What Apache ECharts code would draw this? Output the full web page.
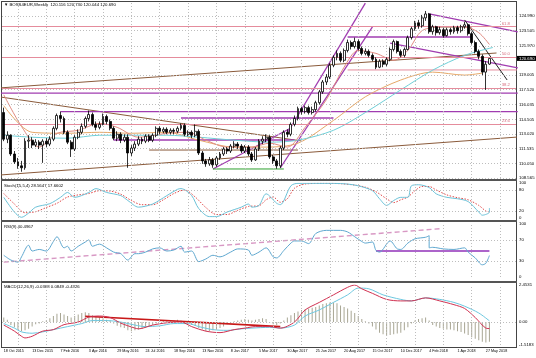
<!DOCTYPE html>
<html><head><meta charset="utf-8">
<script src="https://cdn.jsdelivr.net/npm/echarts/dist/echarts.min.js"></script>
<style>html,body{margin:0;padding:0;background:#fff}#c{width:536px;height:358px}</style>
</head><body><div id="c"></div>
<script>
// ---------------- DATA ----------------
const titleMain = '\u25BC BOSS4EUR,Weekly  120.116 120.730 120.044 120.690';
const titleStoch = 'Stoch(15,5,4) 28.5647 17.6602';
const titleRsi = 'RSI(9) 40.4967';
const titleMacd = 'MACD(12,26,9) -0.0368 0.0849 -0.4326';
const lastPrice = 120.690;
const priceTicks = [108.565,110.050,111.535,113.020,114.505,116.035,117.520,119.005,121.970,123.505,124.990];
const stochTicks = [100,80,20,0];
const rsiTicks = [100,70,30,0];
const macdTicks = [2.4531,0,-1.5183];
const macdTickLabels = ['2.4531','0.00','-1.5183'];
// weekly candles [open, close, low, high], first week 18 Oct 2015
const ohlc = [
[115.2,112.5,112.3,115.7],[112.5,112.9,112.1,113.3],[112.9,111.0,110.8,113.0],[111.0,110.2,110.0,111.3],
[110.2,109.8,109.5,110.6],[109.8,109.6,109.2,110.3],[109.6,112.3,109.4,112.6],[112.3,112.4,111.6,112.9],
[112.4,111.9,111.6,112.7],[111.9,112.2,111.7,112.5],[112.2,111.9,111.5,112.4],[111.9,112.3,110.1,112.5],
[112.3,112.0,111.7,112.6],[112.0,112.5,111.8,112.8],[112.5,113.6,112.3,113.8],[113.6,114.9,113.4,115.1],
[114.9,114.6,114.2,115.3],[114.6,113.2,113.0,114.8],[113.2,112.2,112.0,113.4],[112.2,111.5,110.7,112.4],
[111.5,112.7,111.3,112.9],[112.7,113.2,112.5,113.5],[113.2,113.8,113.0,114.1],[113.8,114.6,113.6,114.8],
[114.6,115.0,114.3,115.4],[115.0,114.0,113.8,115.2],[114.0,113.7,113.4,114.3],[113.7,114.0,113.5,114.3],
[114.0,114.8,113.9,115.1],[114.8,114.3,114.0,115.0],[114.3,113.6,113.4,114.5],[113.6,112.6,112.4,113.8],
[112.6,113.0,112.3,113.3],[113.0,112.4,112.1,113.2],[112.4,112.7,112.2,113.0],[112.7,111.1,109.6,113.0],
[111.1,111.6,110.8,111.9],[111.6,112.0,111.3,112.3],[112.0,112.5,111.8,112.8],[112.5,112.3,112.0,112.7],
[112.3,112.8,112.1,113.0],[112.8,112.4,112.2,113.0],[112.4,112.9,112.2,113.1],[112.9,113.6,112.7,113.8],
[113.6,113.3,113.0,113.8],[113.3,113.5,113.1,113.7],[113.5,113.2,113.0,113.7],[113.2,113.4,113.0,113.6],
[113.4,113.3,113.0,113.6],[113.3,113.6,113.1,113.8],[113.6,113.9,113.4,114.1],[113.9,113.0,112.8,114.1],
[113.0,113.2,112.8,113.4],[113.2,112.9,112.6,113.4],[112.9,113.3,112.7,114.0],[113.3,111.1,110.9,113.5],
[111.1,110.3,110.0,111.3],[110.3,110.0,109.7,110.5],[110.0,110.4,109.8,110.7],[110.4,109.9,109.6,110.6],
[109.9,110.6,109.7,110.8],[110.6,111.0,110.4,111.2],[111.0,111.5,110.8,111.7],[111.5,111.3,111.0,111.7],
[111.3,111.8,111.1,112.0],[111.8,112.0,111.6,112.3],[112.0,111.8,111.5,112.2],[111.8,111.3,111.1,112.0],
[111.3,111.7,111.1,111.9],[111.7,111.0,110.8,111.9],[111.0,110.4,110.2,111.2],[110.4,111.5,110.3,111.7],
[111.5,112.3,111.3,112.5],[112.3,112.5,112.0,112.8],[112.5,112.7,112.2,113.0],[112.7,110.7,110.5,112.9],
[110.7,110.3,110.0,110.9],[110.3,109.8,109.5,110.5],[109.8,111.6,109.6,111.8],[111.6,113.2,111.4,113.4],
[113.2,113.0,112.7,113.5],[113.0,114.0,112.8,114.2],[114.0,114.6,113.8,114.9],[114.6,115.6,114.4,115.8],
[115.6,115.3,115.0,115.8],[115.3,115.7,115.1,115.9],[115.7,115.2,115.0,115.9],[115.2,115.5,115.0,115.8],
[115.5,116.2,115.3,116.4],[116.2,117.3,116.0,117.5],[117.3,118.3,117.1,118.5],[118.3,118.8,118.0,119.1],
[118.8,120.0,118.6,120.2],[120.0,120.8,119.8,121.0],[120.8,121.2,120.5,121.5],[121.2,120.5,120.3,121.4],
[120.5,121.5,120.3,121.7],[121.5,122.3,121.3,122.6],[122.3,121.9,121.6,122.5],[121.9,122.4,121.7,122.8],
[122.4,121.7,121.5,122.6],[121.7,121.2,121.0,121.9],[121.2,121.4,121.0,121.7],[121.4,121.0,120.8,121.6],
[121.0,120.6,120.4,121.2],[120.6,119.8,119.6,120.8],[119.8,120.4,119.7,120.6],[120.4,120.1,119.8,120.6],
[120.1,120.6,119.9,120.8],[120.6,121.6,120.4,121.8],[121.6,122.4,121.4,122.6],[122.4,121.4,121.2,122.5],
[121.4,121.0,120.8,121.6],[121.0,121.6,120.8,121.8],[121.6,122.8,121.5,123.0],[122.8,123.7,122.6,123.9],
[123.7,124.3,123.5,124.5],[124.3,124.0,123.7,124.6],[124.0,124.8,123.8,125.1],[124.8,125.2,124.5,125.5],
[125.2,123.4,123.2,125.3],[123.4,123.9,123.1,124.1],[123.9,123.3,123.0,124.0],[123.3,123.6,123.1,123.9],
[123.6,123.0,122.8,123.8],[123.0,123.6,122.9,123.8],[123.6,123.4,123.1,123.8],[123.4,123.8,123.2,124.0],
[123.8,123.5,123.2,124.0],[123.5,123.9,123.3,124.1],[123.9,124.1,123.7,124.4],[124.1,123.2,123.0,124.2],
[123.2,122.3,122.1,123.4],[122.3,121.4,121.2,122.5],[121.4,120.9,120.6,121.6],[120.9,119.3,119.0,121.1],
[119.3,120.1,117.5,120.4],[120.116,120.690,120.044,120.730]
];
// moving averages [week index, price]
const maFast = [[0,117.0],[5,113.8],[10,111.7],[15,113.1],[21,113.4],[27,114.1],[32,113.7],[38,112.7],[46,113.1],[52,113.2],[57,112.4],[63,111.7],[70,111.7],[75,112.1],[80,111.7],[85,113.7],[91,116.5],[96,119.8],[100,121.5],[105,121.2],[110,120.5],[113.5,121.5],[118,123.5],[124,123.9],[130,123.9],[134,123.3],[137,122.1]];
const maSlow = [[0,115.9],[8,113.2],[18,113.1],[27,113.2],[36,113.1],[46,113.2],[55,112.4],[65,111.7],[74,111.7],[83,112.1],[93,114.4],[102,116.8],[111.5,118.5],[121,119.3],[130.4,119.0],[135.2,119.2]];
const maMid = [[0,112.9],[8,112.7],[18,112.6],[27,112.9],[36,112.9],[46,112.9],[55,112.7],[65,112.4],[75,112.2],[83,112.4],[93,113.4],[102,115.2],[111.5,117.5],[121,119.5],[130,121.0],[138,121.8]];
// fibonacci levels
const fibLevels = [['61.8',123.93],['50.0',120.83],['38.2',117.69],['23.6',114.04]];
const fibExt = ['161.8',125.0,120];
// drawn objects [[week, price],[week, price]]
const brownLines = [[[-1,117.7],[138.6,121.24]],[[-1,116.78],[83.6,112.32]],[[-1,108.87],[144.5,112.72]],[[40.7,111.4],[82.7,111.4]],[[120,123.88],[131.5,123.88]]];
const purpleLines = [[[-1,117.18],[144.5,117.18]],[[16,115.29],[144.5,115.29]],[[49.7,114.65],[92.9,114.65]],[[30.5,112.42],[82.4,112.42]],[[97.1,122.86],[131.5,122.86]],[[78.2,109.58],[104.2,123.88]],[[79.6,113.13],[102.2,126.3]],[[119.9,125.2],[144.5,123.37]],[[108.9,122.25],[144.5,119.72]],[[59,109.48],[80.7,113.63]]];
const pinkLines = [[[97.1,119.52],[144.5,119.52]]];
const greenLines = [[[59,109.48],[78.8,109.48]]];
const blackLines = [[[130.1,124.59],[141.9,118.5]]];
// stochastic
const stochMain = [[0,59],[2.6,17],[4.6,2],[6.6,14],[9.4,31],[13,41],[15.9,59],[17.8,73],[19.5,59],[23.5,73],[26.3,84],[29.1,73],[32.8,64],[34.8,50],[38.4,31],[42.1,40],[46,64],[48.9,82],[50.3,84],[52.5,64],[55.4,27],[57.6,4],[60.1,4],[63,17],[66.6,31],[68.6,40],[70.3,31],[72.3,36],[74.3,69],[76.8,42],[78.2,38],[80.5,92],[83.3,99],[88.1,99],[92.9,99],[96.5,97],[100.2,92],[104.1,78],[106.4,55],[108.4,36],[109.8,50],[111.5,59],[113.5,59],[115.4,92],[117.1,95],[119.9,87],[121.9,69],[124.7,59],[128.4,55],[131.2,47],[134.1,17],[135.2,8],[136.6,17],[137,28.56]];
const stochSignal = [[0,70],[3,40],[6,15],[9,18],[12,30],[15,42],[18,60],[21,66],[24,70],[27,78],[30,77],[33,68],[36,50],[39,38],[42,38],[45,52],[48,70],[51,80],[54,60],[57,30],[60,10],[63,10],[66,22],[69,33],[72,35],[74,52],[76,60],[78,45],[80,55],[82,85],[85,97],[90,99],[95,98],[99,94],[102,88],[105,75],[108,55],[110,44],[112,52],[114,60],[116,78],[118,90],[120,90],[122,80],[125,66],[128,58],[131,52],[134,36],[136,20],[137,17.66]];
// RSI
const rsi = [[0,41],[1.8,32],[3.7,28],[5.4,38],[6.6,60],[8.2,49],[10.2,52],[12.2,49],[13.9,67],[15.3,76],[16.7,55],[17.8,58],[19.2,49],[20.9,58],[22.9,66],[23.8,70],[25.2,58],[27.1,62],[29.1,55],[31.4,47],[33.3,44],[34.8,32],[36.5,44],[38.4,44],[40.4,47],[42.1,53],[44.1,55],[46,49],[47.7,51],[49.7,58],[51.1,47],[53.1,49],[55.4,29],[57.3,34],[59,41],[61,38],[63.8,47],[65.8,53],[68.6,51],[70.3,41],[72.3,47],[74,55],[75.9,38],[77.3,36],[78.8,50],[80.5,64],[82.4,68],[84.4,68],[86.1,63],[88.1,82],[90.9,88],[92.9,88],[94.6,88],[96.5,85],[99.4,76],[101.3,67],[102.2,64],[104.2,66],[105,50],[106.4,47],[109.2,68],[110.6,53],[112,52],[113.5,64],[116.3,72],[118.5,75],[119.7,78],[119.9,55],[121.4,56],[123.9,53],[126.7,52],[129.5,55],[131.2,47],[133.2,36],[135.2,23],[136.2,26],[137,40.5]];
const rsiTrend = [[-0.5,28],[122.5,91]];
const rsiLevelLine = [[105,49],[137,49]];
// MACD
const macdRed = [[0,-0.2],[2.6,-0.6],[4.6,-0.94],[6,-1.05],[8.2,-0.94],[11,-0.6],[13.9,-0.5],[16.7,-0.17],[20.7,0],[23.5,0.33],[27.1,0.4],[29.9,0.3],[32.8,-0.07],[36.5,-0.4],[38.4,-0.45],[42.1,-0.2],[46,-0.05],[49.7,0],[53.4,-0.3],[57.3,-0.6],[61,-0.7],[64.7,-0.5],[67.5,-0.4],[71.4,-0.3],[75.1,-0.3],[77.6,-0.4],[81.6,0],[85.3,0.8],[88.9,1.3],[92.9,1.8],[96.5,2.3],[99.4,2.45],[101.3,2.2],[104.2,1.9],[107.8,1.5],[111.5,1.4],[115.4,1.4],[119.1,1.6],[122.8,1.4],[126.7,1.15],[130.4,0.9],[133.2,0.3],[136,-0.4],[137,-0.43]];
const macdCyan = [[0,-0.1],[2.6,-0.4],[5.4,-0.65],[8.2,-0.74],[11,-0.65],[13.9,-0.5],[17.8,-0.3],[21.5,-0.1],[25.2,0.1],[29.1,0.1],[32.8,0],[36.5,-0.2],[40.4,-0.3],[44.1,-0.25],[47.7,-0.1],[51.7,-0.1],[55.4,-0.3],[59,-0.5],[63,-0.55],[66.6,-0.45],[70.3,-0.4],[75.1,-0.35],[77.6,-0.4],[81.6,-0.2],[85.3,0.4],[88.9,0.8],[92.9,1.3],[96.5,1.8],[100.2,2.25],[103,2.2],[107,1.8],[111.5,1.5],[115.4,1.4],[119.1,1.6],[122.8,1.5],[126.7,1.3],[130.4,1.05],[134.1,0.6],[137,0.08]];
const macdHist = [0.3,0.15,-0.2,-0.35,-0.5,-0.6,-0.55,-0.45,-0.3,-0.15,-0.1,0.05,0.1,0.25,0.4,0.55,0.6,0.5,0.4,0.3,0.4,0.5,0.6,0.65,0.6,0.45,0.35,0.3,0.25,0.15,0.1,-0.1,-0.25,-0.35,-0.4,-0.55,-0.6,-0.55,-0.5,-0.45,-0.4,-0.3,-0.2,-0.1,0.05,0.1,0.1,0.05,0.1,0.15,0.1,-0.1,-0.15,-0.2,-0.25,-0.4,-0.5,-0.6,-0.6,-0.55,-0.5,-0.4,-0.3,-0.15,-0.05,0.05,0.1,0.15,0.2,0.15,0.1,0.15,0.2,0.25,0.2,-0.05,-0.15,-0.2,-0.1,0.1,0.3,0.45,0.6,0.7,0.8,0.85,0.9,0.95,1.0,1.1,1.2,1.25,1.3,1.3,1.25,1.1,1.0,0.9,0.75,0.6,0.4,0.2,0.05,-0.1,-0.3,-0.5,-0.7,-0.8,-0.9,-0.85,-0.8,-0.75,-0.7,-0.55,-0.35,-0.1,0.1,0.2,0.25,0.3,0.1,-0.2,-0.3,-0.4,-0.45,-0.5,-0.5,-0.55,-0.6,-0.65,-0.75,-0.85,-1.0,-1.1,-1.2,-1.3,-1.35,-1.3];
const macdTrend = [[23,0.38],[78,-0.3]];

// ---------------- BUILD ----------------
const NSLOTS = 145;
const monthNames = ['Jan','Feb','Mar','Apr','May','Jun','Jul','Aug','Sep','Oct','Nov','Dec'];
const weeks = [];
for (let k = 0; k < NSLOTS; k++) {
  const d = new Date(Date.UTC(2015, 9, 18 + 7 * k));
  weeks.push(d.getUTCDate() + ' ' + monthNames[d.getUTCMonth()] + ' ' + d.getUTCFullYear());
}
const FF = 'Liberation Sans, Arial, sans-serif';
const FS = 4.3;
const FSX = 3.7;
const vgrid = [];
for (let i = 4; i < NSLOTS; i += 8) vgrid.push(i);
const CLEAR = 'rgba(0,0,0,0)';

const grids = [
  {left: 2, right: 20, top: 2, height: 176},
  {left: 2, right: 20, top: 183, height: 35},
  {left: 2, right: 20, top: 224, height: 53},
  {left: 2, right: 20, top: 285, height: 60}
];
const xAxes = grids.map((g, gi) => ({
  type: 'category', gridIndex: gi, data: weeks, boundaryGap: true,
  axisLine: {show: false}, axisTick: {show: false}, splitLine: {show: false},
  axisLabel: gi === 3 ? {
    show: true, interval: (i) => i % 8 === 0 && i <= 136, align: 'left', margin: 4,
    fontSize: FSX, fontFamily: FF, color: '#000'
  } : {show: false}
}));
const yBase = {position: 'right', axisLine: {show: false}, axisTick: {show: false}, axisLabel: {show: false}, splitLine: {show: false}};
const yAxes = [
  Object.assign({type: 'value', gridIndex: 0, min: 108.565, max: 126.41}, yBase),
  Object.assign({type: 'value', gridIndex: 1, min: 0, max: 100}, yBase),
  Object.assign({type: 'value', gridIndex: 2, min: 0, max: 100}, yBase),
  Object.assign({type: 'value', gridIndex: 3, min: -1.5183, max: 2.4531}, yBase)
];

const series = [];
function levelSeries(gi, ticks, labels, dottedSet) {
  const data = [];
  ticks.forEach((v, k) => {
    const dotted = dottedSet ? dottedSet.includes(v) : true;
    data.push({yAxis: v, name: labels[k], lineStyle: {color: dotted ? '#bdbdbd' : CLEAR}});
  });
  vgrid.forEach(i => data.push({xAxis: i, label: {show: false}}));
  series.push({
    type: 'line', xAxisIndex: gi, yAxisIndex: gi, data: [], silent: true,
    markLine: {
      symbol: 'none', silent: true, animation: false, precision: 6,
      lineStyle: {color: '#bdbdbd', type: [1, 2], width: 1},
      label: {show: true, position: 'end', distance: 3, formatter: '{b}', color: '#000', fontSize: FS, fontFamily: FF},
      data: data
    }
  });
}
levelSeries(0, priceTicks, priceTicks.map(v => v.toFixed(3)));
levelSeries(1, stochTicks, stochTicks.map(String), [80, 20]);
levelSeries(2, rsiTicks, rsiTicks.map(String), [70, 30]);
levelSeries(3, macdTicks, macdTickLabels, [0]);

function seg(gi, pts, color, width, type, z) {
  series.push({type: 'line', xAxisIndex: gi, yAxisIndex: gi, data: pts, symbol: 'none', silent: true,
    clip: true, z: z || 3, lineStyle: {color: color, width: width, type: type || 'solid'}});
}
function curve(gi, pts, color, width, type, z) {
  series.push({type: 'line', xAxisIndex: gi, yAxisIndex: gi, data: pts, symbol: 'none', silent: true,
    smooth: 0.3, clip: true, z: z || 4, lineStyle: {color: color, width: width, type: type || 'solid'}});
}

// fib lines + last price tag
series.push({
  type: 'line', xAxisIndex: 0, yAxisIndex: 0, data: [], silent: true, z: 2,
  markLine: {
    symbol: 'none', silent: true, animation: false, precision: 6,
    lineStyle: {color: '#e58c9c', type: 'solid', width: 1},
    label: {show: true, position: 'insideEndTop', distance: [6, 1], formatter: '{b}', color: '#d87080', fontSize: FS, fontFamily: FF},
    data: fibLevels.map(f => ({yAxis: f[1], name: f[0]})).concat([
      [{coord: [fibExt[2], fibExt[1]], name: fibExt[0]}, {coord: [NSLOTS - 0.5, fibExt[1]]}],
      {yAxis: lastPrice, name: lastPrice.toFixed(3), lineStyle: {color: CLEAR},
       label: {position: 'end', distance: 1, color: '#fff', backgroundColor: '#000', padding: [1, 2, 0, 2], fontSize: FS}}
    ])
  }
});
brownLines.forEach(l => seg(0, l, '#8a5a3a', 1));
purpleLines.forEach(l => seg(0, l, '#a03cb0', 1.3));
pinkLines.forEach(l => seg(0, l, '#e58c9c', 1));
greenLines.forEach(l => seg(0, l, '#2ea02e', 1));
blackLines.forEach(l => seg(0, l, '#202020', 1));

curve(0, maSlow, '#e6a868', 1);
curve(0, maMid, '#6fd0d8', 1);
curve(0, maFast, '#e08a80', 1);

series.push({
  type: 'candlestick', xAxisIndex: 0, yAxisIndex: 0, data: ohlc, barWidth: 2.4, silent: true, z: 5,
  itemStyle: {color: '#ffffff', color0: '#000000', borderColor: '#000000', borderColor0: '#000000', borderWidth: 0.8}
});

curve(1, stochSignal, '#e04848', 1, [1.5, 1.5]);
curve(1, stochMain, '#6cc2d8', 1);

seg(2, rsiTrend, '#d898c4', 1.4, [5, 3]);
seg(2, rsiLevelLine, '#9030b8', 1.5);
curve(2, rsi, '#5fa8d0', 1);

series.push({type: 'bar', xAxisIndex: 3, yAxisIndex: 3, data: macdHist, barWidth: 1, silent: true,
  itemStyle: {color: '#a8a694'}, z: 2});
seg(3, macdTrend, '#c81818', 1.6);
curve(3, macdCyan, '#6cc8e0', 1);
curve(3, macdRed, '#d03050', 1);

const graphic = [
  {type: 'line', shape: {x1: 1.5, y1: 1, x2: 1.5, y2: 348}, style: {stroke: '#444', lineWidth: 1}},
  {type: 'line', shape: {x1: 516.5, y1: 1, x2: 516.5, y2: 348}, style: {stroke: '#444', lineWidth: 1}},
  {type: 'line', shape: {x1: 1, y1: 1.5, x2: 517, y2: 1.5}, style: {stroke: '#444', lineWidth: 1}},
  {type: 'line', shape: {x1: 1, y1: 347.5, x2: 517, y2: 347.5}, style: {stroke: '#444', lineWidth: 1}},
  {type: 'rect', shape: {x: 1, y: 179, width: 516, height: 2}, style: {fill: '#555'}},
  {type: 'rect', shape: {x: 1, y: 220, width: 516, height: 2}, style: {fill: '#555'}},
  {type: 'rect', shape: {x: 1, y: 281, width: 516, height: 2}, style: {fill: '#555'}},
  {type: 'text', x: 4, y: 3, style: {text: titleMain, fontSize: FS, fontFamily: FF, fill: '#000'}},
  {type: 'text', x: 4, y: 184, style: {text: titleStoch, fontSize: FS, fontFamily: FF, fill: '#000'}},
  {type: 'text', x: 4, y: 225, style: {text: titleRsi, fontSize: FS, fontFamily: FF, fill: '#000'}},
  {type: 'text', x: 4, y: 285, style: {text: titleMacd, fontSize: FS, fontFamily: FF, fill: '#000'}}
];

const chart = echarts.init(document.getElementById('c'), null, {renderer: 'canvas'});
chart.setOption({
  animation: false, backgroundColor: '#ffffff',
  grid: grids, xAxis: xAxes, yAxis: yAxes, series: series, graphic: graphic
});
</script></body></html>
